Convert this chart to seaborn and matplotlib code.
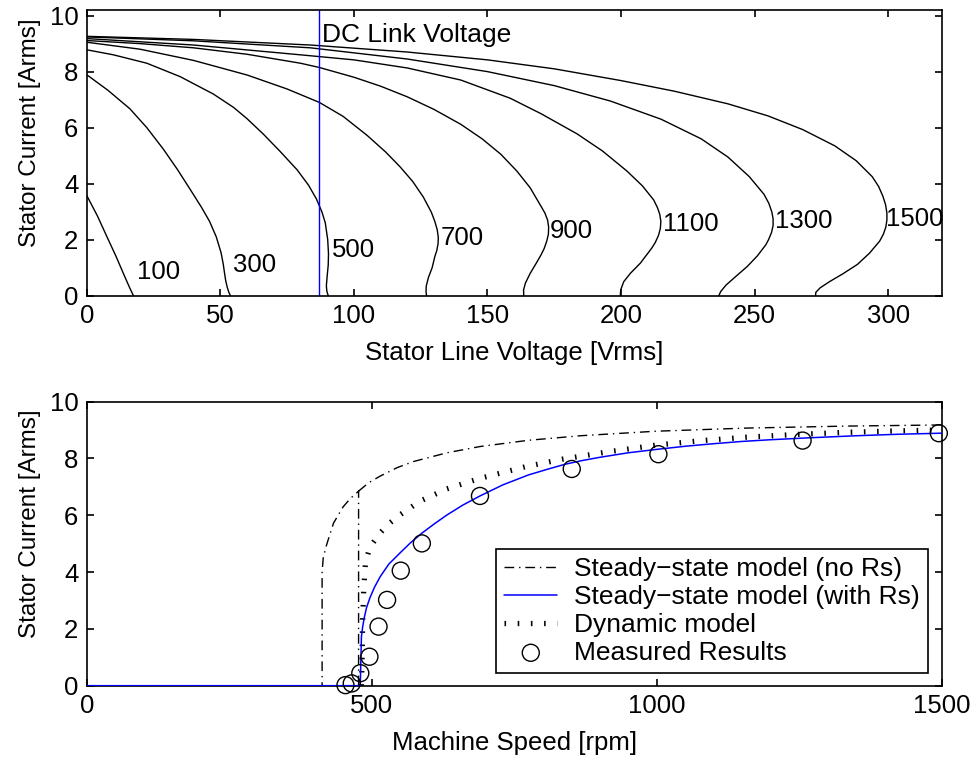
import numpy as np
import pandas as pd
import matplotlib
matplotlib.use("Agg")
import matplotlib.pyplot as plt
import seaborn as sns

# ---------------- upper panel: stator current vs line voltage ----------------
speeds = [100, 300, 500, 700, 900, 1100, 1300, 1500]

v_100 = [0, 4, 7.5, 11, 13.7, 16, 17.5]
i_100 = [3.58, 2.85, 2.12, 1.4, 0.8, 0.3, 0]

v_300 = [0, 8, 16.2, 22.5, 28.7, 34, 38.7, 43, 46, 48.5, 50.3, 51.1, 51.6, 52.0, 52.6, 53.2, 53.8]
i_300 = [7.89, 7.33, 6.67, 6.0, 5.23, 4.5, 3.8, 3.15, 2.65, 2.1, 1.53, 1.13, 0.8, 0.55, 0.3, 0.12, 0]

v_500 = [0, 10, 22.5, 35, 47.4, 55, 60, 66, 72.4, 78.7, 83, 86, 88, 89.3, 90.2, 90.5,
         90.4, 90.0, 89.7, 89.9, 90.4]
i_500 = [8.78, 8.6, 8.3, 7.82, 7.2, 6.72, 6.32, 5.78, 5.15, 4.5, 3.95, 3.45, 3.0, 2.6, 2.0, 1.5,
         1.1, 0.7, 0.35, 0.15, 0]

v_700 = [0, 20, 40, 60, 75, 87.1, 96, 105, 112, 117.3, 122, 126, 129, 130.3, 131.2, 131.6,
         131.5, 131.0, 130.3, 129.3, 127.9, 127.1, 127.0, 127.2]
i_700 = [9.05, 8.8, 8.4, 7.88, 7.38, 6.9, 6.4, 5.72, 5.12, 4.6, 4.08, 3.52, 2.98, 2.65, 2.35, 2.08,
         1.85, 1.6, 1.4, 1.0, 0.65, 0.35, 0.15, 0]

v_900 = [0, 20, 40, 60, 80, 87, 100, 110, 120, 130, 140, 148, 155, 161, 166, 170, 171.5, 172.5,
         172.9, 172.8, 172.2, 171.2, 170.0, 168.5, 166, 164.2, 163.5, 163.6]
i_900 = [9.11, 9.0, 8.85, 8.62, 8.3, 8.15, 7.8, 7.48, 7.1, 6.65, 6.12, 5.6, 5.05, 4.45, 3.85, 3.2,
         2.95, 2.7, 2.45, 2.2, 1.95, 1.68, 1.45, 1.2, 0.8, 0.45, 0.2, 0]

v_1100 = [0, 40, 80, 100, 120, 140, 158.5, 170, 183.5, 193, 202.2, 208, 212.2, 213.6, 214.5,
          214.9, 214.7, 214.0, 212.8, 211.5, 207.2, 203.5, 201, 199.9, 199.7]
i_1100 = [9.18, 8.95, 8.6, 8.42, 8.13, 7.7, 7.05, 6.5, 5.78, 5.17, 4.45, 3.92, 3.42, 3.15, 2.9,
          2.65, 2.4, 2.15, 1.9, 1.7, 1.16, 0.8, 0.5, 0.22, 0]

v_1300 = [0, 40, 83.7, 120, 150, 175, 196, 215, 230, 240, 248, 253.5, 255.3, 256.4, 256.9,
          256.9, 256.3, 255.2, 254.2, 251, 247.2, 242.5, 239.3, 237.3, 236.6]
i_1300 = [9.24, 9.1, 8.85, 8.45, 8.0, 7.5, 6.95, 6.3, 5.6, 4.95, 4.25, 3.62, 3.3, 3.0, 2.75,
          2.5, 2.25, 2.0, 1.82, 1.42, 1.04, 0.65, 0.38, 0.15, 0]

v_1500 = [0, 40, 83.7, 120, 150, 175, 200, 220, 240, 255, 268, 280, 288, 294, 296.4, 298.0,
          299.0, 299.5, 299.5, 299.1, 298.2, 296.8, 293, 288.5, 283, 278, 274.5, 272.9, 272.8]
i_1500 = [9.26, 9.15, 8.95, 8.7, 8.42, 8.1, 7.68, 7.3, 6.85, 6.42, 5.93, 5.35, 4.82, 4.25, 3.9,
          3.55, 3.25, 2.95, 2.7, 2.45, 2.2, 1.95, 1.52, 1.12, 0.78, 0.5, 0.28, 0.12, 0]

label_v = [18.8, 54.8, 91.9, 132.3, 173.4, 215.7, 257.6, 299.2]
label_i = [0.85, 1.1, 1.64, 2.07, 2.32, 2.57, 2.65, 2.75]

dc_link_v = 87.1

# ---------------- lower panel: stator current vs machine speed ----------------
speed_no_rs = [0, 413, 413, 415, 420, 427, 433, 441, 450, 463, 477, 477, np.nan,
               477, 495, 515, 545, 573, 632, 690, 775, 866, 999, 1158, 1333, 1500]
current_no_rs = [0, 0, 4.0, 4.5, 4.9, 5.35, 5.72, 6.0, 6.3, 6.6, 6.85, 0, np.nan,
                 6.85, 7.15, 7.38, 7.68, 7.89, 8.2, 8.42, 8.64, 8.8, 8.96, 9.07, 9.14, 9.18]

speed_rs = [0, 480, 481, 482, 484, 487, 491, 497, 505, 515, 530, 549, 568, 588, 610, 632, 660,
            690, 730, 775, 810, 840, 870, 900, 950, 1000, 1050, 1100, 1150, 1200, 1270, 1350,
            1420, 1500]
current_rs = [0, 0, 0.9, 1.73, 2.05, 2.4, 2.75, 3.1, 3.47, 3.84, 4.28, 4.66, 5.03, 5.37, 5.7,
              6.01, 6.36, 6.68, 7.07, 7.42, 7.63, 7.8, 7.93, 8.04, 8.2, 8.32, 8.43, 8.52, 8.6,
              8.66, 8.73, 8.8, 8.85, 8.89]

speed_dyn = [482, 483, 484, 486, 489, 495, 503, 515, 530, 550, 585, 632, 690, 772, 836, 920,
             999, 1080, 1158, 1250, 1333, 1420, 1500]
current_dyn = [0, 0.8, 2.2, 3.37, 4.31, 4.75, 5.05, 5.38, 5.7, 6.02, 6.5, 6.93, 7.3, 7.72, 7.98,
               8.25, 8.47, 8.63, 8.75, 8.85, 8.92, 8.97, 9.0]

speed_meas = [454, 465, 480, 496, 512, 527, 551, 588, 690, 851, 1003, 1256, 1495]
current_meas = [0.02, 0.08, 0.44, 1.02, 2.08, 3.02, 4.05, 5.01, 6.68, 7.63, 8.15, 8.63, 8.89]

legend_labels = ["Steady\u2212state model (no Rs)", "Steady\u2212state model (with Rs)",
                 "Dynamic model", "Measured Results"]

# ---------------- styling ----------------
sns.set_style("ticks")
plt.rcParams["font.family"] = ["Liberation Sans", "DejaVu Sans"]
plt.rcParams["font.size"] = 18.5
plt.rcParams["text.color"] = "black"
plt.rcParams["axes.labelcolor"] = "black"
plt.rcParams["xtick.color"] = "black"
plt.rcParams["ytick.color"] = "black"
plt.rcParams["axes.edgecolor"] = "black"
plt.rcParams["axes.linewidth"] = 1.2
plt.rcParams["xtick.direction"] = "in"
plt.rcParams["ytick.direction"] = "in"
plt.rcParams["xtick.major.size"] = 5
plt.rcParams["ytick.major.size"] = 5
plt.rcParams["xtick.major.width"] = 1.2
plt.rcParams["ytick.major.width"] = 1.2
plt.rcParams["xtick.top"] = True
plt.rcParams["ytick.right"] = True

fig = plt.figure(figsize=(9.72, 7.58), dpi=100)
ax1 = fig.add_axes([0.0892, 0.6099, 0.8796, 0.3769])
ax2 = fig.add_axes([0.0892, 0.0954, 0.8796, 0.3747])

# upper panel curves
curves = [(100, v_100, i_100), (300, v_300, i_300), (500, v_500, i_500),
          (700, v_700, i_700), (900, v_900, i_900), (1100, v_1100, i_1100),
          (1300, v_1300, i_1300), (1500, v_1500, i_1500)]
frames = [pd.DataFrame({"speed": s, "voltage": v, "current": c}) for s, v, c in curves]
df_top = pd.concat(frames, ignore_index=True)
sns.lineplot(data=df_top, x="voltage", y="current", units="speed", estimator=None,
             sort=False, color="black", linewidth=1.0, ax=ax1, legend=False)

for s, lv, li in zip(speeds, label_v, label_i):
    ax1.text(lv, li, str(s), ha="left", va="center", fontsize=18.5)

ax1.axvline(dc_link_v, color="#0000ff", linewidth=1.0)
ax1.text(dc_link_v + 1.0, 9.3, "DC Link Voltage", ha="left", va="center", fontsize=19)

ax1.set_xlim(0, 320)
ax1.set_ylim(0, 10.2)
ax1.set_xticks([0, 50, 100, 150, 200, 250, 300])
ax1.set_yticks([0, 2, 4, 6, 8, 10])
ax1.set_xlabel("Stator Line Voltage [Vrms]", labelpad=9.5)
ax1.set_ylabel("Stator Current [Arms]", labelpad=6.5, fontsize=17.5)

# lower panel curves
h_no_rs, = ax2.plot(speed_no_rs, current_no_rs, color="black", linewidth=1.0,
                    linestyle=(0, (7, 3.5, 1, 3.5)), zorder=2)
sns.lineplot(x=speed_rs, y=current_rs, sort=False, color="#0000ff", linewidth=1.1,
             ax=ax2, zorder=3)
h_rs = ax2.lines[-1]
sns.lineplot(x=speed_dyn, y=current_dyn, sort=False, color="black", linewidth=3.8,
             linestyle=(0, (0.3, 2.2)), ax=ax2, zorder=2)
h_dyn = ax2.lines[-1]
h_dyn.set_dash_capstyle("butt")
sns.scatterplot(x=speed_meas, y=current_meas, marker="o", s=150, facecolor="none",
                edgecolor="black", linewidth=1.0, ax=ax2, clip_on=False, zorder=5)
h_meas = ax2.collections[-1]

ax2.set_xlim(0, 1500)
ax2.set_ylim(0, 10)
ax2.set_xticks([0, 500, 1000, 1500])
ax2.set_yticks([0, 2, 4, 6, 8, 10])
ax2.set_xlabel("Machine Speed [rpm]", labelpad=9.5)
ax2.set_ylabel("Stator Current [Arms]", labelpad=6.5, fontsize=17.5)

leg = ax2.legend([h_no_rs, h_rs, h_dyn, h_meas], legend_labels, loc="lower right",
                 bbox_to_anchor=(0.984, 0.046), frameon=True, fancybox=False,
                 edgecolor="black", framealpha=1, borderpad=0.3, labelspacing=0.15,
                 handlelength=2.0, handletextpad=0.65, borderaxespad=0, fontsize=19)
leg.get_frame().set_linewidth(1.2)

for ax in (ax1, ax2):
    for sp in ax.spines.values():
        sp.set_visible(True)
        sp.set_color("black")
    ax.tick_params(axis="both", which="major", pad=6, colors="black", labelsize=18.5)
    ax.yaxis.label.set_y(0.57)

fig.savefig("out.png", dpi=100, facecolor="white")
